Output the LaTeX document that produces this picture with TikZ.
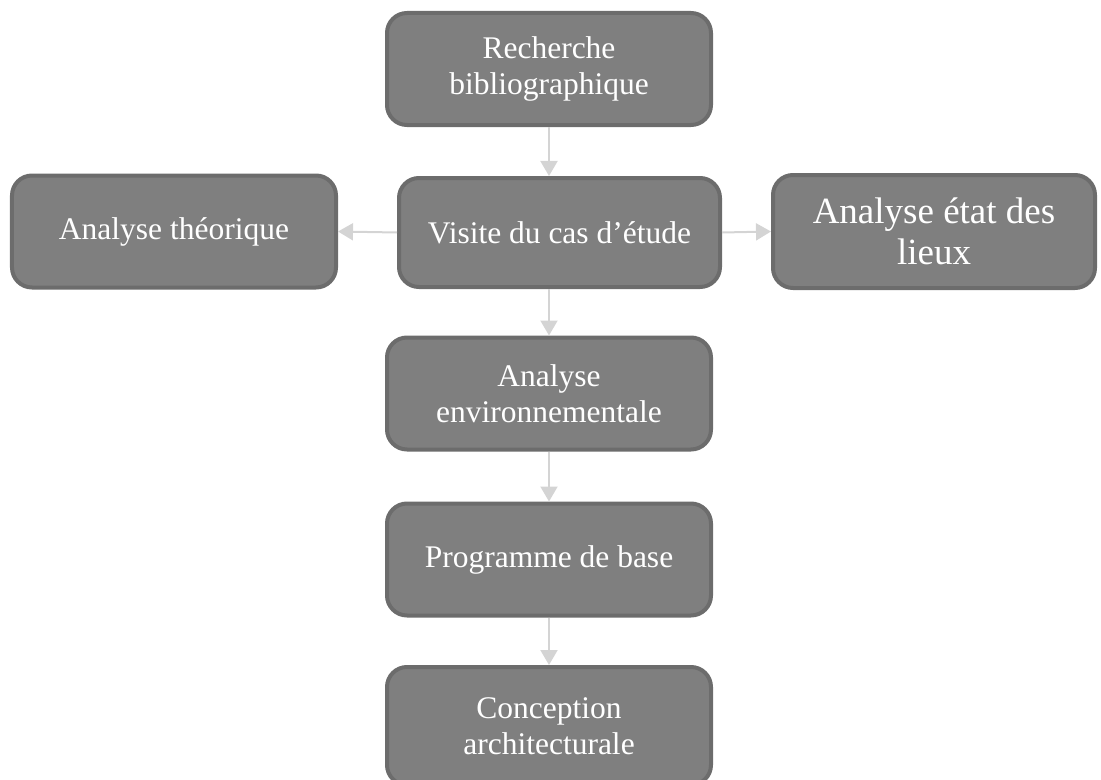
\documentclass[tikz,border=0pt]{standalone}
\usepackage{fontspec}
\setmainfont{Liberation Serif}
\usetikzlibrary{arrows.meta}
\definecolor{boxfill}{HTML}{7F7F7F}
\definecolor{boxline}{HTML}{6C6C6C}
\definecolor{arrowc}{HTML}{D4D4D4}
\begin{document}
\begin{tikzpicture}[x=1bp,y=-1bp,
  stepbox/.style={draw=boxline, fill=boxfill, line width=4bp, rounded corners=20bp,
    text=white, align=center, font=\fontsize{31.5bp}{36bp}\selectfont, inner sep=0pt,
    minimum width=324bp, minimum height=112bp},
  bigtext/.style={font=\fontsize{37bp}{41bp}\selectfont},
  conn/.style={draw=arrowc, line width=2bp, -{Triangle[length=15bp,width=17bp]}}]
\useasboundingbox (0,0) rectangle (1101,780);
\node[stepbox] (rech) at (549,69) {Recherche\\bibliographique};
\node[stepbox, minimum width=321bp, minimum height=109bp] (visite) at (559.5,232.5) {Visite du cas d’étude};
\node[stepbox] (theo) at (174,231.5) {Analyse théorique};
\node[stepbox, bigtext, minimum width=322bp, minimum height=113bp] (etat) at (934,231.5) {Analyse état des\\lieux};
\node[stepbox] (env) at (549,393.5) {Analyse\\environnementale};
\node[stepbox] (prog) at (549,559.5) {Programme de base};
\node[stepbox, minimum height=118bp] (conc) at (549,726) {Conception\\architecturale};
\draw[conn] (rech.south) -- (visite.north -| rech.south);
\draw[conn] (visite.west) -- (theo.east);
\draw[conn] (visite.east) -- (etat.west);
\draw[conn] (visite.south -| env.north) -- (env.north);
\draw[conn] (env.south) -- (prog.north);
\draw[conn] (prog.south) -- (conc.north);
\end{tikzpicture}
\end{document}
